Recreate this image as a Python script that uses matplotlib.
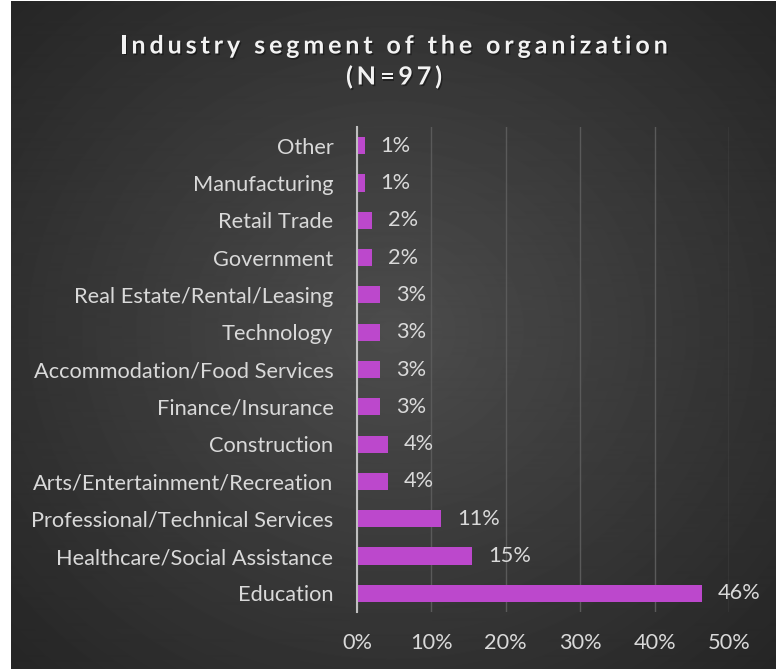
import numpy as np
import matplotlib.pyplot as plt
import matplotlib.patheffects as pe
from matplotlib.ticker import FuncFormatter
from matplotlib.font_manager import FontProperties

# share of respondents (%), N=97, top to bottom as listed
segments = ["Other", "Manufacturing", "Retail Trade", "Government",
            "Real Estate/Rental/Leasing", "Technology",
            "Accommodation/Food Services", "Finance/Insurance",
            "Construction", "Arts/Entertainment/Recreation",
            "Professional/Technical Services", "Healthcare/Social Assistance",
            "Education"]
share = [1.03, 1.03, 2.06, 2.06, 3.09, 3.09, 3.09, 3.09, 4.12, 4.12,
         11.34, 15.46, 46.39]
xticks = [0, 10, 20, 30, 40, 50]
title = ["Industry segment of the organization", "(N=97)"]

plt.rcParams['font.family'] = ['Lato', 'DejaVu Sans']
txt = '#d9d9d9'
bar_color = '#bc48cc'
fs = 15.7

fig = plt.figure(figsize=(7.76, 6.69), dpi=100, facecolor='white')

# dark radial background
bg = fig.add_axes([11 / 776, 0, 1 - 11 / 776, 1 - 1 / 669])
yy, xx = np.mgrid[0:669, 0:765]
r = np.sqrt(((xx - 380) / 520.0) ** 2 + ((yy - 330) / 470.0) ** 2)
shade = np.clip(0.30 - 0.15 * r, 0.14, 0.30)
bg.imshow(shade, cmap='gray', vmin=0, vmax=1, aspect='auto',
          interpolation='bilinear')
bg.axis('off')

ax = fig.add_axes([357 / 776, 1 - 612 / 669, (729 - 357) / 776, (612 - 127) / 669])
ax.patch.set_alpha(0)

pos = np.arange(len(segments))[::-1]
ax.barh(pos, share, height=0.46, color=bar_color, zorder=3)
for p, v in zip(pos, share):
    ax.annotate(f"{v:.0f}%", (v, p), xytext=(11.5, 0), textcoords='offset points',
                va='center', ha='left', color=txt, fontsize=fs)

ax.set_xlim(0, 50)
ax.set_ylim(-0.5, len(segments) - 0.5)
ax.set_xticks(xticks)
ax.xaxis.set_major_formatter(FuncFormatter(lambda v, _: f"{v:.0f}%"))
ax.set_yticks(pos)
ax.set_yticklabels(segments)
ax.tick_params(axis='both', length=0, colors=txt, labelsize=fs)
ax.tick_params(axis='y', pad=17)
ax.tick_params(axis='x', pad=15)
ax.grid(axis='x', color='#5a5a5a', lw=1, zorder=0)
for s in ['top', 'right', 'bottom']:
    ax.spines[s].set_visible(False)
ax.spines['left'].set_color('#bfbfbf')
ax.spines['left'].set_linewidth(1.5)
ax.spines['left'].set_zorder(4)

# bold title with letter spacing, placed one character at a time
renderer = fig.canvas.get_renderer()
prop = FontProperties(family='Lato', weight='bold', size=18)
shadow = [pe.withSimplePatchShadow(offset=(1, -1.2), shadow_rgbFace='black', alpha=0.4)]


def width(s):
    w, _, _ = renderer.get_text_width_height_descent(s + "x", prop, ismath=False)
    wx, _, _ = renderer.get_text_width_height_descent("x", prop, ismath=False)
    return w - wx


def tracked_line(s, xc, yc, track):
    total = width(s) + track * (len(s) - 1)
    left = xc - total / 2
    for i, ch in enumerate(s):
        x = left + width(s[:i]) + track * i
        fig.text(x / 776, 1 - yc / 669, ch, fontproperties=prop, color='#f2f2f2',
                 ha='left', va='center', path_effects=shadow)


tracked_line(title[0], 394, 46, 3.9)
tracked_line(title[1], 394, 77, 3.9)

fig.savefig('out.png', dpi=100, facecolor='white')
